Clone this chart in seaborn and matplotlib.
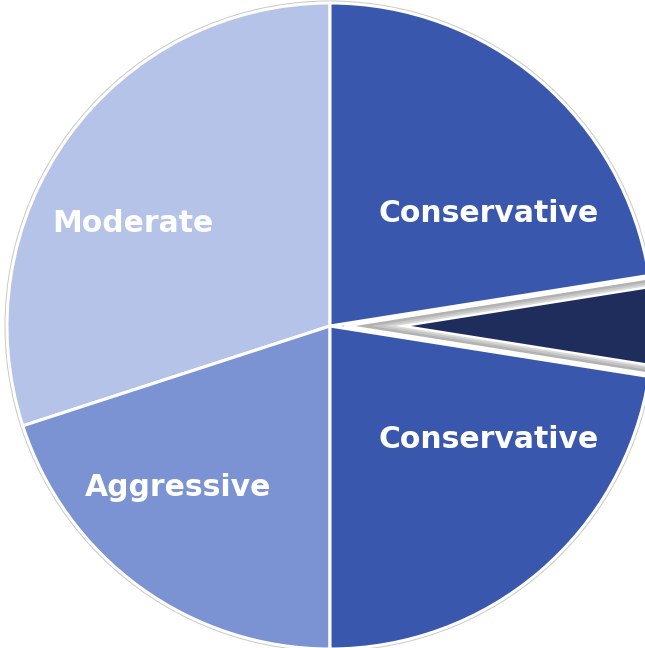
import matplotlib
matplotlib.use("Agg")
import matplotlib.pyplot as plt
import seaborn as sns
from matplotlib.patches import Circle, Wedge

sns.set_theme(style="white")
plt.rcParams['font.family'] = ['DejaVu Sans']

# ---- data ----
categories = ["Moderate", "Aggressive", "Conservative", "", "Conservative"]
shares = [30.0, 20.0, 22.5, 5.0, 22.5]
colors = ["#B4C3E7", "#7B93D3", "#3A57AE", "#1F2D5C", "#3A57AE"]
explode_frac = [0, 0, 0, 0.045, 0]
label_xy = [(133, 224), (178, 488), (489, 440), None, (489, 213)]

W, H = 645, 648
fig = plt.figure(figsize=(W / 100, H / 100), dpi=100)
ax = fig.add_axes([0, 0, 1, 1])

cx, cy, R = 330, H - 326, 323

# soft shadow / outline
ax.add_patch(Circle((cx, cy), R + 2.5, facecolor="#c9c9c9", edgecolor="none", zorder=0))

wedges, _ = ax.pie(shares, colors=colors, startangle=90, counterclock=True,
                   radius=R, center=(cx, cy), explode=[e * R for e in explode_frac],
                   frame=True, wedgeprops=dict(edgecolor="white", linewidth=2.2))

# bevel border on the exploded slice: white | gray gradient | white | fill
dark = wedges[3]
for lw, col in [(15, "white"), (11.5, "#dadada"), (9, "#c6c6c6"), (6, "#b2b2b2")]:
    w = Wedge(dark.center, dark.r, dark.theta1, dark.theta2,
              facecolor="none", edgecolor=col, linewidth=lw, zorder=3)
    ax.add_patch(w)
    w.set_clip_path(dark)
w = Wedge(dark.center, dark.r, dark.theta1, dark.theta2,
          facecolor="none", edgecolor="white", linewidth=2.4, zorder=4)
ax.add_patch(w)

for name, xy in zip(categories, label_xy):
    if xy is None or not name:
        continue
    ax.text(xy[0], H - xy[1], name, ha="center", va="center", color="white",
            fontsize=21.5, fontweight="bold", zorder=5)

ax.set_xlim(0, W)
ax.set_ylim(0, H)
ax.set_aspect("equal")
ax.axis("off")
fig.savefig("out.png", dpi=100)
